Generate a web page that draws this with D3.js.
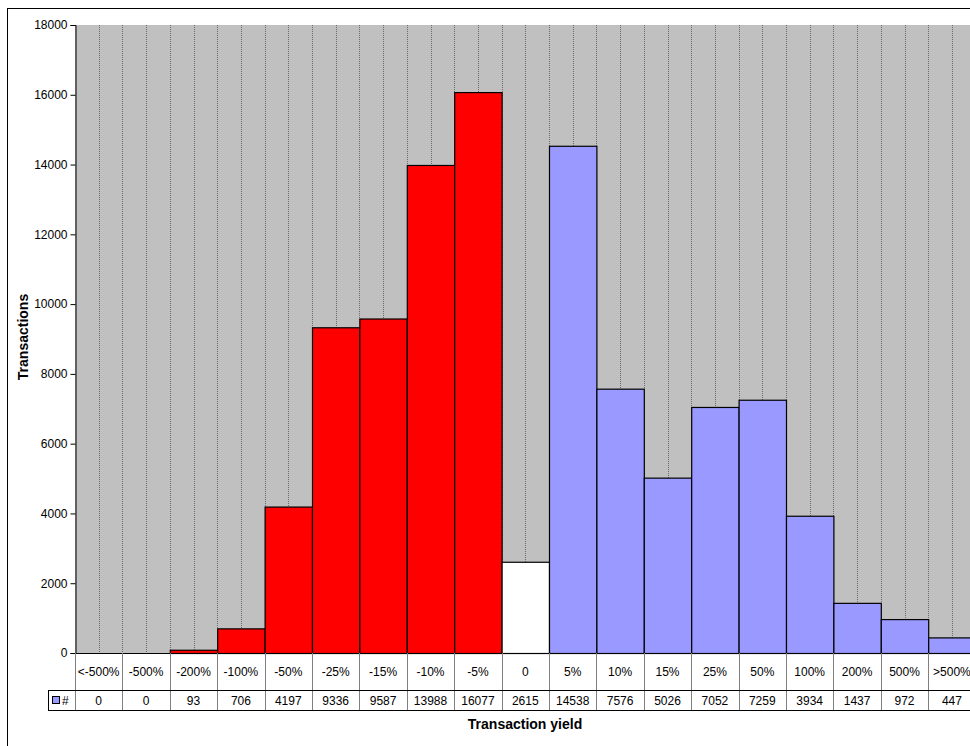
<!DOCTYPE html>
<html>
<head>
<meta charset="utf-8">
<script src="https://cdn.jsdelivr.net/npm/d3@7"></script>
<style>
  html, body { margin: 0; padding: 0; background: #fff; }
  svg { display: block; font-family: Arial, "Liberation Sans", sans-serif; }
</style>
</head>
<body>
<svg id="chart" width="970" height="746"></svg>
<script>
// Yield buckets and transaction counts per bucket
const categories = ["<-500%", "-500%", "-200%", "-100%", "-50%", "-25%", "-15%", "-10%", "-5%",
  "0", "5%", "10%", "15%", "25%", "50%", "100%", "200%", "500%", ">500%"];
const counts = [0, 0, 93, 706, 4197, 9336, 9587, 13988, 16077,
  2615, 14538, 7576, 5026, 7052, 7259, 3934, 1437, 972, 447];
const yTicks = [0, 2000, 4000, 6000, 8000, 10000, 12000, 14000, 16000, 18000];
const seriesName = "#";

const svg = d3.select("#chart");

// Chart frame
svg.append("rect")
  .attr("x", 7.5).attr("y", 8.5)
  .attr("width", 1000).attr("height", 800)
  .attr("fill", "#fff").attr("stroke", "#000").attr("stroke-width", 1);

const plot = { left: 75, top: 25, bottom: 653, colW: 47.4 };
const x = d3.scaleBand()
  .domain(categories)
  .range([plot.left, plot.left + categories.length * plot.colW])
  .padding(0);
const y = d3.scaleLinear().domain([0, 18000]).range([plot.bottom, plot.top]);

// Plot background
svg.append("rect")
  .attr("x", plot.left).attr("y", plot.top)
  .attr("width", x.range()[1] - plot.left).attr("height", plot.bottom - plot.top)
  .attr("fill", "#c0c0c0");

// Vertical dotted gridlines at column edges and centres
const gridXs = [];
categories.forEach((c, i) => {
  if (i > 0) gridXs.push(x(c));
  gridXs.push(x(c) + x.bandwidth() / 2);
});
svg.append("g").selectAll("line").data(gridXs).join("line")
  .attr("x1", d => Math.round(d) + 0.5).attr("x2", d => Math.round(d) + 0.5)
  .attr("y1", plot.top).attr("y2", plot.bottom)
  .attr("stroke", "#6a6a6a").attr("stroke-width", 1)
  .attr("stroke-dasharray", "1,1");

// Bars
const colorFor = c => c === "0" ? "#ffffff" : (c.includes("-") ? "#ff0000" : "#9999ff");
const barData = categories.map((c, i) => ({ c, v: counts[i] })).filter(d => d.v > 0);
svg.append("g").selectAll("rect").data(barData)
  .join("rect")
  .attr("x", d => x(d.c) + 0.5)
  .attr("y", d => y(d.v) + 0.5)
  .attr("width", x.bandwidth())
  .attr("height", d => y(0) - y(d.v))
  .attr("fill", d => colorFor(d.c))
  .attr("stroke", "#000").attr("stroke-width", 1.2);

// Y axis
const yAxis = d3.axisLeft(y).tickValues(yTicks).tickSize(5).tickPadding(3).tickFormat(d3.format("d"));
const ya = svg.append("g").attr("transform", `translate(${plot.left + 0.5},0)`).call(yAxis);
ya.select(".domain").attr("stroke", "#000");
ya.selectAll(".tick line").attr("stroke", "#000");
ya.selectAll("text").attr("font-size", 12).attr("fill", "#000")
  .attr("font-family", "Arial, 'Liberation Sans', sans-serif");

// Baseline
svg.append("line")
  .attr("x1", plot.left).attr("x2", x.range()[1])
  .attr("y1", plot.bottom + 0.5).attr("y2", plot.bottom + 0.5)
  .attr("stroke", "#000");

// Data table under the axis
const row1 = 690, row2 = 710, legendLeft = 48;
const table = svg.append("g");
// column separators
const edges = categories.map(c => x(c)).concat([x.range()[1]]);
table.selectAll("line.col").data(edges).join("line")
  .attr("class", "col")
  .attr("x1", d => Math.round(d) + 0.5).attr("x2", d => Math.round(d) + 0.5)
  .attr("y1", plot.bottom).attr("y2", row2)
  .attr("stroke", "#808080");
// row lines
[row1, row2].forEach(yy => {
  table.append("line")
    .attr("x1", legendLeft).attr("x2", x.range()[1])
    .attr("y1", yy + 0.5).attr("y2", yy + 0.5)
    .attr("stroke", "#000");
});
table.append("line")
  .attr("x1", legendLeft + 0.5).attr("x2", legendLeft + 0.5)
  .attr("y1", row1).attr("y2", row2)
  .attr("stroke", "#000");
// category labels
table.selectAll("text.cat").data(categories).join("text")
  .attr("class", "cat")
  .attr("x", d => x(d) + x.bandwidth() / 2)
  .attr("y", (plot.bottom + row1) / 2 + 4)
  .attr("text-anchor", "middle").attr("font-size", 12)
  .text(d => d);
// values
table.selectAll("text.val").data(categories.map((c, i) => ({ c, v: counts[i] }))).join("text")
  .attr("class", "val")
  .attr("x", d => x(d.c) + x.bandwidth() / 2)
  .attr("y", (row1 + row2) / 2 + 4.5)
  .attr("text-anchor", "middle").attr("font-size", 12)
  .text(d => d.v);
// legend key
table.append("rect")
  .attr("x", 52.5).attr("y", 696.5).attr("width", 7).attr("height", 7)
  .attr("fill", "#9999ff").attr("stroke", "#000");
table.append("text")
  .attr("x", 62).attr("y", 704.5).attr("font-size", 12)
  .text(seriesName);

// Axis titles
svg.append("text")
  .attr("x", 525).attr("y", 729)
  .attr("text-anchor", "middle").attr("font-size", 14).attr("font-weight", "bold")
  .text("Transaction yield");
svg.append("text")
  .attr("transform", "translate(28,337) rotate(-90)")
  .attr("text-anchor", "middle").attr("font-size", 14).attr("font-weight", "bold")
  .text("Transactions");
</script>
</body>
</html>
